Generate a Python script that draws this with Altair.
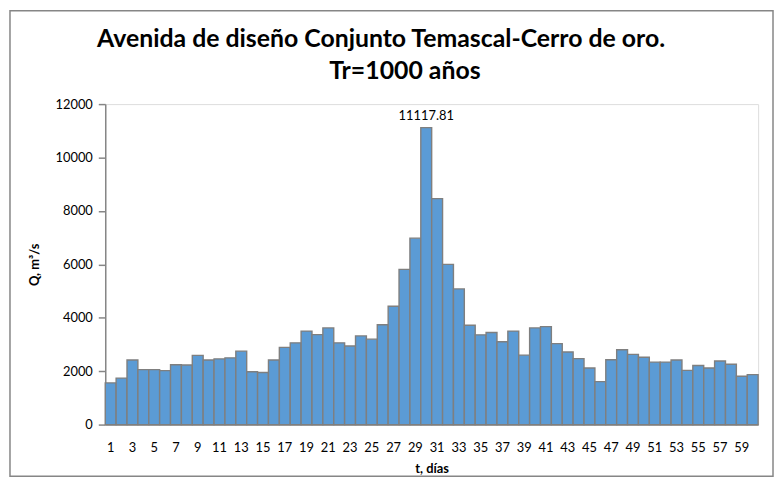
import altair as alt
import pandas as pd

days = list(range(1, 61))
flow = [1560, 1740, 2420, 2060, 2060, 2020, 2240, 2230, 2590, 2420,
        2460, 2500, 2750, 1980, 1950, 2420, 2890, 3060, 3500, 3370,
        3620, 3060, 2940, 3320, 3200, 3740, 4430, 5810, 6980, 11117.81,
        8460, 6000, 5080, 3720, 3360, 3450, 3100, 3500, 2600, 3620,
        3670, 3030, 2720, 2470, 2120, 1610, 2430, 2800, 2630, 2520,
        2340, 2340, 2420, 2030, 2210, 2120, 2380, 2260, 1810, 1870]
x_tick_labels = [d for d in days if d % 2 == 1]
y_ticks = [0, 2000, 4000, 6000, 8000, 10000, 12000]
title_lines = ["Avenida de diseño Conjunto Temascal-Cerro de oro.", "Tr=1000 años"]
peak_day = 30

df = pd.DataFrame({"t": days, "Q": flow})

FONT = "Lato"
GREY = "#868686"

x_enc = alt.X("t:O", title="t, días",
              scale=alt.Scale(paddingInner=0, paddingOuter=0),
              axis=alt.Axis(values=x_tick_labels, labelAngle=0, ticks=False,
                            labelPadding=17, labelFontSize=13, labelFont=FONT,
                            labelColor="black", domainColor=GREY, domainWidth=1.5,
                            titleFont=FONT, titleFontSize=13, titleFontWeight="bold",
                            titleColor="black", titlePadding=8))
y_enc = alt.Y("Q:Q", title="Q, m³/s",
              scale=alt.Scale(domain=[0, 12000], nice=False),
              axis=alt.Axis(values=y_ticks, format="d", grid=False, tickSize=7,
                            tickColor=GREY, tickWidth=1.5, domainColor=GREY,
                            domainWidth=1.5, labelPadding=6, labelFontSize=13,
                            labelFont=FONT, labelColor="black", titleFont=FONT,
                            titleFontSize=13, titleFontWeight="bold",
                            titleColor="black", titleX=-64))

bars = alt.Chart(df).mark_bar(color="#5B9BD5", stroke="#7F7F7F",
                              strokeWidth=1.4).encode(x=x_enc, y=y_enc)

label = alt.Chart(df).transform_filter(alt.datum.t == peak_day).mark_text(
    baseline="bottom", dy=-5, fontSize=13, font=FONT, color="black"
).encode(x=alt.X("t:O"), y=alt.Y("Q:Q"), text=alt.Text("Q:Q", format=".2f"))

one = alt.Data(values=[{"b": 1}])

border = alt.Chart(one).mark_rect(
    fill=None, fillOpacity=0, stroke=GREY, strokeWidth=1.5
).encode(x=alt.value(-96), x2=alt.value(673), y=alt.value(-94), y2=alt.value(375))

title1 = alt.Chart(one).mark_text(
    fontSize=25, font=FONT, fontWeight="bold", color="black",
    align="center", baseline="alphabetic"
).encode(x=alt.value(278), y=alt.value(-58), text=alt.value(title_lines[0]))

title2 = alt.Chart(one).mark_text(
    fontSize=25, font=FONT, fontWeight="bold", color="black",
    align="center", baseline="alphabetic"
).encode(x=alt.value(302), y=alt.value(-25), text=alt.value(title_lines[1]))

chart = alt.layer(border, bars, label, title1, title2).properties(
    width=658, height=323,
    autosize=alt.AutoSizeParams(type="none"),
    padding={"left": 98, "top": 95, "right": 16, "bottom": 55},
).configure_view(stroke=None).configure(background="white")

chart.save("out.html", embed_options={"renderer": "svg", "actions": False})
